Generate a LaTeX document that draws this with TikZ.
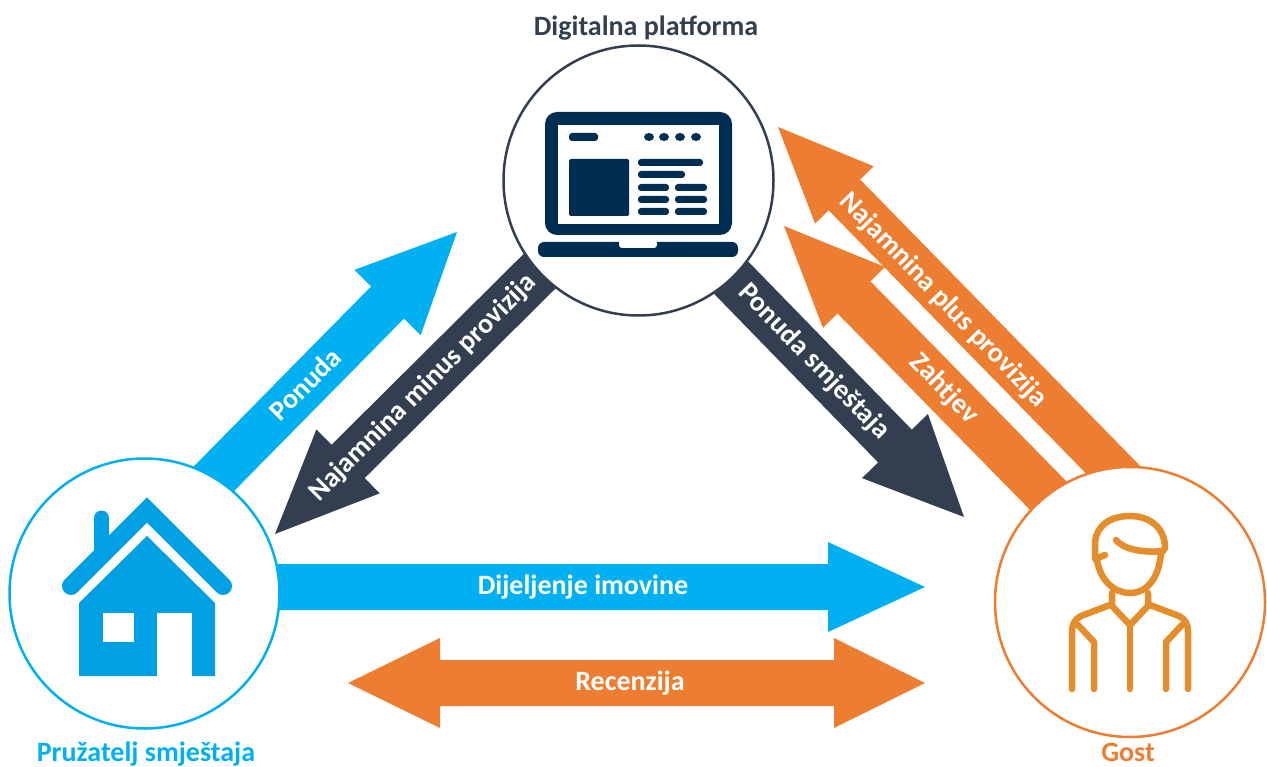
\documentclass[tikz,border=0pt]{standalone}
\usepackage{fontspec}
\setmainfont{Carlito}
\usetikzlibrary{calc}
\definecolor{cblue}{HTML}{00B0F0}
\definecolor{cdark}{HTML}{333F50}
\definecolor{corange}{HTML}{ED7D31}
\definecolor{claptop}{HTML}{002E52}
\definecolor{chouse}{HTML}{00A0E3}
\definecolor{cperson}{HTML}{E48E2B}
\tikzset{
  hub/.style={circle,draw=#1,line width=2.5pt,fill=white,minimum size=270pt,inner sep=0pt},
  arrowlabel/.style={text=white,font=\fontsize{28}{30}\selectfont\bfseries,inner sep=0pt},
  caption/.style={font=\fontsize{28}{30}\selectfont\bfseries,inner sep=0pt,anchor=base},
  bar/.style={fill=claptop,rounded corners=3pt},
  personline/.style={draw=cperson,line width=6.5pt,line cap=round,line join=round}
}
\newcommand{\blockarrow}[6]{%
  \coordinate (hb) at ($(#2)!#6pt!(#1)$);
  \fill[#3] ($(#1)!#4pt!90:(#2)$) -- ($(hb)!#4pt!90:(#2)$) -- ($(hb)!#5pt!90:(#2)$) -- (#2)
    -- ($(hb)!#5pt!-90:(#2)$) -- ($(hb)!#4pt!-90:(#2)$) -- ($(#1)!#4pt!-90:(#2)$) -- cycle;
}
\begin{document}
\begin{tikzpicture}[x=1pt,y=-1pt]
\useasboundingbox (0,0) rectangle (1267,767);
% arrow ends
\coordinate (ponA) at (191,502);
\coordinate (ponB) at (457,232);
\coordinate (minA) at (572,239);
\coordinate (minB) at (275,534);
\coordinate (smA) at (713,259);
\coordinate (smB) at (964,517);
\coordinate (plusA) at (1128,485);
\coordinate (plusB) at (778,127);
\coordinate (zahA) at (1078,526);
\coordinate (zahB) at (784,226);
\coordinate (dijA) at (240,587);
\coordinate (dijB) at (925,587);
\coordinate (recL) at (348,683);
\coordinate (recR) at (925,683);
\blockarrow{ponA}{ponB}{cblue}{23}{46.5}{99}
\blockarrow{minA}{minB}{cdark}{23.5}{45}{103}
\blockarrow{smA}{smB}{cdark}{23.5}{46}{99}
\blockarrow{plusA}{plusB}{corange}{22}{41}{95}
\blockarrow{zahA}{zahB}{corange}{23}{43.5}{100}
\blockarrow{dijA}{dijB}{cblue}{23}{45}{97}
\fill[corange] (recL) -- ($(recL)+(92,-45)$) -- ($(recL)+(92,-23)$) -- ($(recR)+(-91,-23)$) -- ($(recR)+(-91,-45)$) -- (recR)
  -- ($(recR)+(-91,45)$) -- ($(recR)+(-91,23)$) -- ($(recL)+(92,23)$) -- ($(recL)+(92,45)$) -- cycle;
% hubs
\node[hub=cdark] (plat) at (638.5,180.5) {};
\node[hub=cblue] (prov) at (144.5,593.5) {};
\node[hub=corange] (guest) at (1130,602) {};
% laptop
\fill[claptop,rounded corners=12pt] (545,235) -- (545,112) -- (732,112) -- (732,235) -- cycle;
\fill[white] (558,125) rectangle (719,224);
\fill[claptop,rounded corners=6pt] (538,242) -- (738,242) -- (738,257) -- (538,257) -- cycle;
\fill[white,rounded corners=3pt] (619,240) -- (619,248) -- (657,248) -- (657,240) -- cycle;
\fill[bar] (569,133) rectangle (598,141);
\foreach \dx in {649,664,680,696} \fill[claptop] (\dx,137) ellipse (5pt and 4pt);
\fill[claptop,rounded corners=1.5pt] (569,159) rectangle (629,216);
\fill[bar] (638,159) rectangle (703,166);
\fill[bar] (638,171) rectangle (685,178);
\foreach \ly in {184,196,208} {
  \fill[bar] (638,\ly) rectangle (669,\ly+7);
  \fill[bar] (675,\ly) rectangle (707,\ly+7);
}
% house
\draw[chouse,line width=15pt,line cap=round] (101.5,518) -- (101.5,555);
\draw[chouse,line width=18pt,line cap=round,line join=miter] (71,586) -- (147,510) -- (223,586);
\fill[white] (70,603) -- (147,524) -- (224,603) -- cycle;
\fill[chouse] (79,603) -- (147,536) -- (215,603) -- (215,676) -- (79,676) -- cycle;
\fill[white] (103,613) rectangle (134,642);
\fill[white] (157,613) rectangle (192,677);
% person
\draw[personline] (1105,555) -- (1095,559) -- (1095,545) .. controls (1095,526) and (1110,516) .. (1130,516)
  .. controls (1150,516) and (1165,528) .. (1165,548) -- (1163,551);
\draw[personline] (1116,540) .. controls (1124,550) and (1145,553) .. (1163,551);
\draw[personline] (1097,560) .. controls (1100,580) and (1114,593) .. (1130,593) .. controls (1147,593) and (1159,578) .. (1161,553);
\draw[personline] (1112,593) -- (1112,606) -- (1130,625) -- (1148,606) -- (1148,593);
\draw[personline] (1130,625) -- (1130,689);
\draw[personline] (1110,605) -- (1081,616) .. controls (1075,619) and (1072,624) .. (1072,632) -- (1072,689);
\draw[personline] (1150,605) -- (1179,616) .. controls (1185,619) and (1188,624) .. (1188,632) -- (1188,689);
\draw[personline] (1078,625) -- (1094,642) -- (1094,689);
\draw[personline] (1182,625) -- (1166,642) -- (1166,689);
% labels
\node[arrowlabel,rotate=45] (lpon) at (305,384) {Ponuda};
\node[arrowlabel,rotate=45] (lmin) at (423,388) {Najamnina minus provizija};
\node[arrowlabel,rotate=-46] (lsm) at (814,362) {Ponuda smještaja};
\node[arrowlabel,rotate=-46] (lzah) at (944,389) {Zahtjev};
\node[arrowlabel,rotate=-46] (lplus) at (943,300) {Najamnina plus provizija};
\node[arrowlabel,anchor=base] (ldij) at (583,594) {Dijeljenje imovine};
\node[arrowlabel,anchor=base] (lrec) at (630,690) {Recenzija};
\node[caption,text=cdark] (tplat) at (646,36) {Digitalna platforma};
\node[caption,text=cblue] (tprov) at (146,761) {Pružatelj smještaja};
\node[caption,text=corange] (tguest) at (1128,761) {Gost};
\end{tikzpicture}
\end{document}
